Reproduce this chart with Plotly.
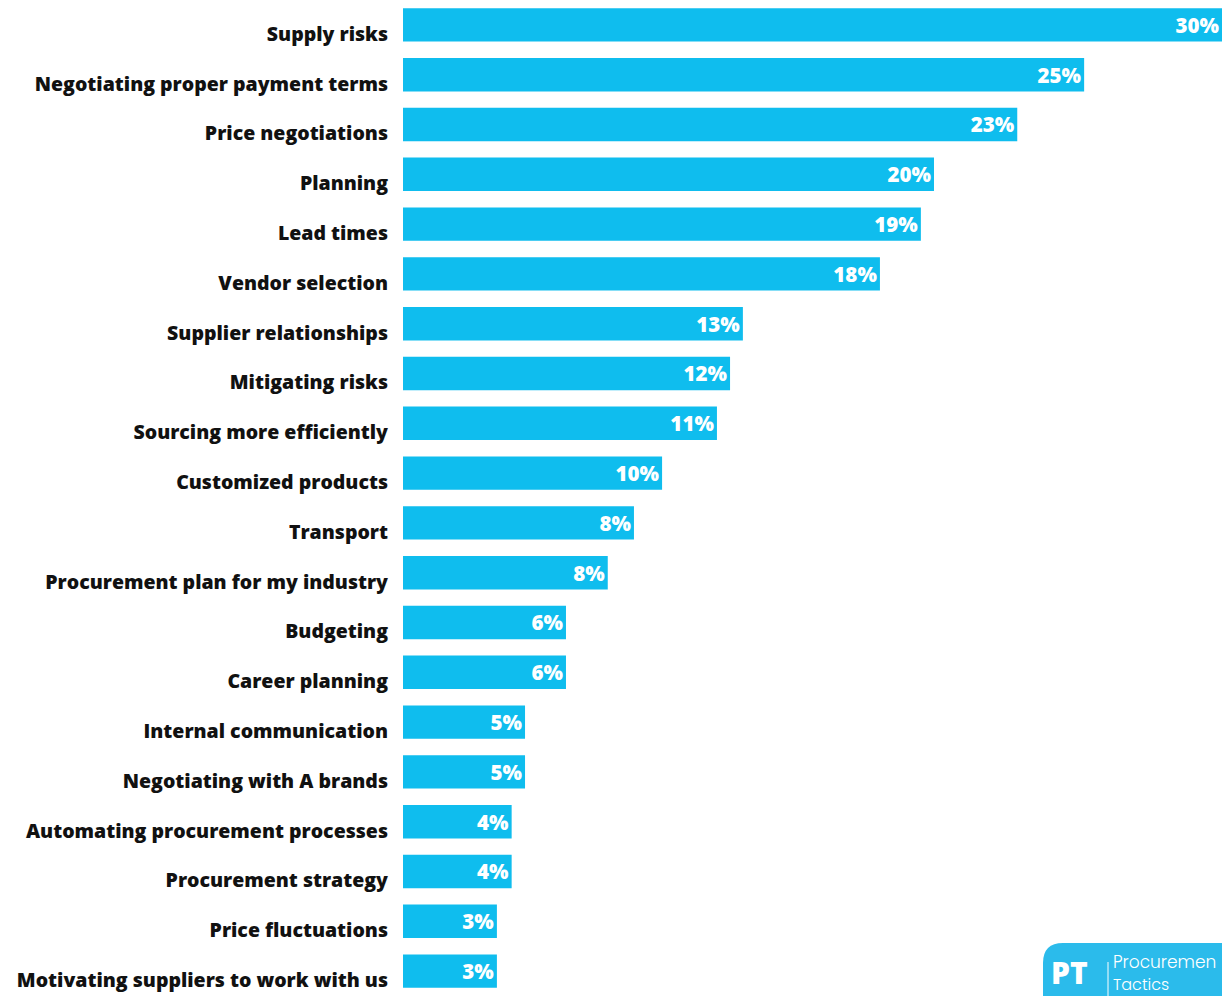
import plotly.graph_objects as go

categories = [
    "Supply risks",
    "Negotiating proper payment terms",
    "Price negotiations",
    "Planning",
    "Lead times",
    "Vendor selection",
    "Supplier relationships",
    "Mitigating risks",
    "Sourcing more efficiently",
    "Customized products",
    "Transport",
    "Procurement plan for my industry",
    "Budgeting",
    "Career planning",
    "Internal communication",
    "Negotiating with A brands",
    "Automating procurement processes",
    "Procurement strategy",
    "Price fluctuations",
    "Motivating suppliers to work with us",
]
values = [30.0, 24.95, 22.5, 19.45, 18.97, 17.47, 12.45, 11.98, 11.5, 9.49,
          8.46, 7.5, 5.97, 5.97, 4.47, 4.47, 3.98, 3.98, 3.44, 3.44]
value_labels = ["30%", "25%", "23%", "20%", "19%", "18%", "13%", "12%", "11%", "10%",
                "8%", "8%", "6%", "6%", "5%", "5%", "4%", "4%", "3%", "3%"]

BAR = "#0FBDEE"
LOGO = "#2BBBEB"

fig = go.Figure(go.Bar(
    x=values,
    y=categories,
    orientation="h",
    marker=dict(color=BAR, line=dict(width=0)),
    text=value_labels,
    textposition="inside",
    insidetextanchor="end",
    textangle=0,
    insidetextfont=dict(family="Open Sans", size=21, color="white", weight=800),
    hoverinfo="skip",
))

W, H = 1222, 996
L = 403
fig.update_layout(
    width=W, height=H,
    margin=dict(l=L, r=0, t=0, b=0),
    paper_bgcolor="white", plot_bgcolor="white",
    bargap=0.33,
    showlegend=False,
    xaxis=dict(range=[0, 30], visible=False, fixedrange=True),
    yaxis=dict(
        categoryorder="array", categoryarray=categories, autorange="reversed",
        showgrid=False, zeroline=False, showline=False, ticks="",
        ticklabelstandoff=14, ticklabelshift=-9,
        tickfont=dict(family="Open Sans", size=19.5, color="#111111", weight=800),
    ),
)

# Logo badge (bottom right)
pw = W - L
def px(xp):
    return (xp - L) / pw
def py(yp):
    return (H - yp) / H

x0, y0 = px(1043), py(943)
x1, y1 = px(1240), py(1010)
rx, ry = 20 / pw, 20 / H
path = (f"M {x0+rx},{y0} L {x1},{y0} L {x1},{y1} L {x0},{y1} L {x0},{y0-ry} "
        f"Q {x0},{y0} {x0+rx},{y0} Z")
fig.add_shape(type="path", path=path, xref="paper", yref="paper",
              fillcolor=LOGO, line=dict(width=0), layer="above")
fig.add_shape(type="line", xref="paper", yref="paper",
              x0=px(1108), x1=px(1108), y0=py(962), y1=py(996),
              line=dict(color="white", width=1))
fig.add_annotation(text="PT", xref="paper", yref="paper", x=px(1049), y=py(972),
                   xanchor="left", yanchor="middle", showarrow=False,
                   font=dict(family="Open Sans", size=30, color="white", weight=800))
fig.add_annotation(text="Procuremen", xref="paper", yref="paper", x=px(1111), y=py(962),
                   xanchor="left", yanchor="middle", showarrow=False,
                   font=dict(family="Poppins, Lato", size=17, color="white", weight=300))
fig.add_annotation(text="Tactics", xref="paper", yref="paper", x=px(1111), y=py(984),
                   xanchor="left", yanchor="middle", showarrow=False,
                   font=dict(family="Poppins, Lato", size=16, color="white", weight=300))

fig.write_html("out.html", config={"displayModeBar": False},
               post_script="document.body.style.margin='0';document.body.style.overflow='hidden';")
